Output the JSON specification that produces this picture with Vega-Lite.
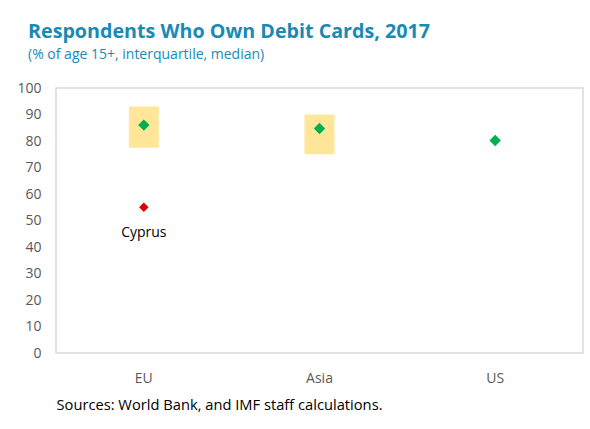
{
  "$schema": "https://vega.github.io/schema/vega-lite/v6.json",
  "width": 527,
  "height": 265,
  "autosize": "none",
  "padding": {"left": 56, "top": 88, "right": 7, "bottom": 76},
  "background": "white",
  "title": {
    "text": "Respondents Who Own Debit Cards, 2017",
    "subtitle": "(% of age 15+, interquartile, median)",
    "anchor": "start",
    "frame": "group",
    "dx": -28,
    "offset": 19,
    "font": "Open Sans",
    "fontSize": 19.7,
    "fontWeight": "bold",
    "color": "#1a8ab5",
    "subtitleFont": "Open Sans",
    "subtitleFontSize": 14,
    "subtitleColor": "#1a8ab5",
    "subtitlePadding": 6
  },
  "data": {
    "values": [
      {"region": "EU", "q1": 77.5, "q3": 93, "median": 86, "outlier": 55, "label": "Cyprus"},
      {"region": "Asia", "q1": 75, "q3": 90, "median": 84.7, "outlier": null, "label": null},
      {"region": "US", "q1": null, "q3": null, "median": 80.2, "outlier": null, "label": null}
    ]
  },
  "encoding": {
    "x": {
      "field": "region",
      "type": "nominal",
      "sort": ["EU", "Asia", "US"],
      "scale": {"paddingInner": 0, "paddingOuter": 0},
      "axis": {
        "title": "Sources: World Bank, and IMF staff calculations.",
        "titleAnchor": "start",
        "titleAlign": "left",
        "titleFont": "Open Sans",
        "titleFontSize": 14.7,
        "titleFontWeight": "normal",
        "titleColor": "#000000",
        "titlePadding": 12,
        "labelAngle": 0,
        "labelFont": "Open Sans",
        "labelFontSize": 14,
        "labelColor": "#595959",
        "labelPadding": 18,
        "ticks": false,
        "domain": false
      }
    },
    "y": {
      "field": "median",
      "type": "quantitative",
      "scale": {"domain": [0, 100], "nice": false},
      "axis": {
        "title": null,
        "values": [0, 10, 20, 30, 40, 50, 60, 70, 80, 90, 100],
        "labelOverlap": false,
        "labelSeparation": 0,
        "labelBound": false,
        "grid": false,
        "ticks": false,
        "domain": false,
        "labelFont": "Open Sans",
        "labelFontSize": 14,
        "labelColor": "#595959",
        "labelPadding": 15
      }
    }
  },
  "layer": [
    {
      "mark": {"type": "bar", "color": "#ffe699", "width": 30},
      "transform": [{"filter": "datum.q1 != null"}],
      "encoding": {
        "y": {"field": "q1", "type": "quantitative"},
        "y2": {"field": "q3"}
      }
    },
    {
      "mark": {"type": "point", "shape": "diamond", "filled": true, "color": "#00b050", "size": 130, "opacity": 1}
    },
    {
      "mark": {"type": "point", "shape": "diamond", "filled": true, "color": "#e00000", "size": 90, "opacity": 1},
      "transform": [{"filter": "datum.outlier != null"}],
      "encoding": {
        "y": {"field": "outlier", "type": "quantitative"}
      }
    },
    {
      "mark": {"type": "text", "dy": 26, "font": "Open Sans", "fontSize": 14, "color": "#000000"},
      "transform": [{"filter": "datum.outlier != null"}],
      "encoding": {
        "y": {"field": "outlier", "type": "quantitative"},
        "text": {"field": "label"}
      }
    }
  ],
  "config": {
    "view": {"stroke": "#d9d9d9", "strokeWidth": 1.5}
  }
}
